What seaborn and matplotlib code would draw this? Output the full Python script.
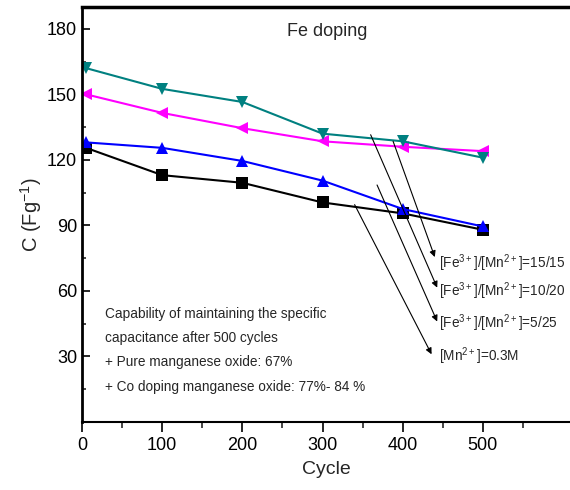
import numpy as np
import pandas as pd
import matplotlib
matplotlib.use("Agg")
import matplotlib.pyplot as plt
from matplotlib.ticker import FixedLocator
import seaborn as sns

# Cycle number and specific capacitance (F/g) for each sample
cycles = [5, 100, 200, 300, 400, 500]
mn_only = [125.5, 113.0, 109.5, 100.5, 95.5, 88.0]
fe_5_25 = [128.0, 125.5, 119.5, 110.5, 97.5, 89.5]
fe_10_20 = [150.0, 141.5, 134.5, 128.5, 126.0, 124.0]
fe_15_15 = [162.0, 152.5, 146.5, 132.0, 128.5, 121.0]

x_ticks = [0, 100, 200, 300, 400, 500]
y_ticks = [30, 60, 90, 120, 150, 180]

series_names = ["mn", "fe5", "fe10", "fe15"]
series_values = [mn_only, fe_5_25, fe_10_20, fe_15_15]
colors = {"mn": "#000000", "fe5": "#0000ff", "fe10": "#ff00ff", "fe15": "#008080"}
markers = {"mn": "s", "fe5": "^", "fe10": "<", "fe15": "v"}

df = pd.DataFrame(
    [(c, v, n) for n, vals in zip(series_names, series_values) for c, v in zip(cycles, vals)],
    columns=["Cycle", "C", "sample"],
)

sns.set_theme(style="ticks")
plt.rcParams["font.family"] = ["Liberation Sans", "DejaVu Sans"]
plt.rcParams["mathtext.fontset"] = "custom"
plt.rcParams["mathtext.rm"] = "Liberation Sans"
plt.rcParams["mathtext.it"] = "Liberation Sans"

fig = plt.figure(figsize=(5.7, 4.9), dpi=100)
ax = fig.add_axes([0.1439, 0.1388, 0.858, 0.847])

sns.lineplot(
    data=df, x="Cycle", y="C", hue="sample", style="sample",
    palette=colors, markers=markers, dashes=False, markersize=8,
    markeredgewidth=0, linewidth=1.5, legend=False, ax=ax,
)

ax.set_xlim(0, 610)
ax.set_ylim(0, 190)
ax.xaxis.set_major_locator(FixedLocator(x_ticks))
ax.xaxis.set_minor_locator(FixedLocator([50, 150, 250, 350, 450, 550]))
ax.yaxis.set_major_locator(FixedLocator(y_ticks))
ax.yaxis.set_minor_locator(FixedLocator([15, 45, 75, 105, 135, 165]))
ax.tick_params(axis="x", which="major", direction="out", length=7, width=1.2, labelsize=13, colors="black")
ax.tick_params(axis="x", which="minor", direction="out", length=4, width=1.2)
ax.tick_params(axis="y", which="major", direction="in", length=6, width=1.2, labelsize=13, colors="black")
ax.tick_params(axis="y", which="minor", direction="in", length=3, width=1.2)

ax.spines["left"].set_linewidth(2)
ax.spines["top"].set_linewidth(2.5)
ax.spines["bottom"].set_linewidth(1.5)
ax.spines["right"].set_visible(False)
for s in ax.spines.values():
    s.set_color("black")

ax.set_xlabel("Cycle", fontsize=14, labelpad=5)
ax.set_ylabel("C (Fg$^{-1}$)", fontsize=14.5, labelpad=2)

ax.text(0.419, 0.94, "Fe doping", transform=ax.transAxes, fontsize=13, ha="left", va="center")

# Arrow annotations pointing from the curves to the sample labels
labels = [
    ("[Fe$^{3+}$]/[Mn$^{2+}$]=15/15", (388, 128.5), (440, 75.5), 72.5),
    ("[Fe$^{3+}$]/[Mn$^{2+}$]=10/20", (360, 131.5), (443, 61.5), 60.0),
    ("[Fe$^{3+}$]/[Mn$^{2+}$]=5/25", (368, 108.5), (443, 46.0), 45.0),
    ("[Mn$^{2+}$]=0.3M", (340, 99.5), (436, 31.0), 30.0),
]
for text, start, end, ty in labels:
    ax.annotate("", xy=end, xytext=start,
                arrowprops=dict(arrowstyle="-|>", color="black", lw=0.8,
                                mutation_scale=9, shrinkA=0, shrinkB=0))
    ax.text(445, ty, text, fontsize=9.8, ha="left", va="center")

notes = [
    "Capability of maintaining the specific",
    "capacitance after 500 cycles",
    "+ Pure manganese oxide: 67%",
    "+ Co doping manganese oxide: 77%- 84 %",
]
for i, line in enumerate(notes):
    ax.text(29, 49.5 - i * 11.1, line, fontsize=9.8, ha="left", va="center")

fig.savefig("out.png", dpi=100)
